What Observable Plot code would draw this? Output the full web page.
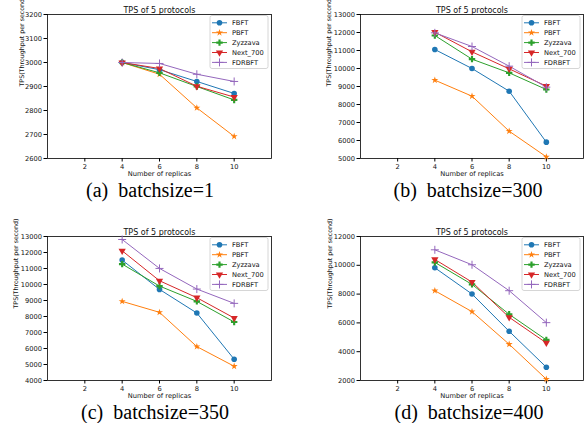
<!DOCTYPE html>
<html><head><meta charset="utf-8">
<script src="https://cdn.jsdelivr.net/npm/d3@7"></script>
<script src="https://cdn.jsdelivr.net/npm/@observablehq/plot@0.6"></script>
<style>
body{margin:0;background:#fff;}
#root{position:relative;width:586px;height:423px;overflow:hidden;background:#fff;}
.panel{position:absolute;width:293px;}
.cap{position:absolute;font-family:"Liberation Serif","Times New Roman",serif;font-size:20px;white-space:pre;transform:translateX(-50%);line-height:1;color:#000;}
</style></head><body><div id="root"></div>
<script>
const replicas = [4, 6, 8, 10];
const protocols = ["FBFT", "PBFT", "Zyzzava", "Next_700", "FDRBFT"];
const colors = ["#1f77b4", "#ff7f0e", "#2ca02c", "#d62728", "#9467bd"];
const symbols = ["circle", "star", "cross", "triangle", "plus"];
const batchsizes = [1, 300, 350, 400];
const letters = ["a", "b", "c", "d"];
const title = "TPS of 5 protocols";
const xLabel = "Number of replicas";
const yLabel = "TPS(Throughput per second)";
// rows: FBFT, PBFT, Zyzzava, Next_700, FDRBFT
const tps1 = [[3000, 2970, 2921, 2871], [3000, 2951, 2811, 2692], [3000, 2957, 2900, 2844], [3000, 2975, 2901, 2856], [3000, 2996, 2951, 2921]];
const tps300 = [[11056, 10000, 8740, 5907], [9352, 8463, 6519, 5093], [11833, 10519, 9759, 8833], [12019, 10926, 9981, 9019], [11981, 11222, 10130, 8963]];
const tps350 = [[11524, 9694, 8218, 5329], [8946, 8260, 6118, 4891], [11274, 9902, 8946, 7657], [12106, 10235, 9175, 7906], [12813, 11004, 9715, 8821]];
const tps400 = [[9829, 8005, 5418, 2924], [8236, 6781, 4517, 2092], [10199, 8674, 6596, 4818], [10406, 8836, 6388, 4610], [11076, 10037, 8236, 6018]];
const xTicks = [2, 4, 6, 8, 10];
const xDomain = [0, 12];
const yTicks1 = [2600, 2700, 2800, 2900, 3000, 3100, 3200];
const yTicks300 = [5000, 6000, 7000, 8000, 9000, 10000, 11000, 12000, 13000];
const yTicks350 = [4000, 5000, 6000, 7000, 8000, 9000, 10000, 11000, 12000, 13000];
const yTicks400 = [2000, 4000, 6000, 8000, 10000, 12000];

const dataSets = [tps1, tps300, tps350, tps400];
const tickSets = [yTicks1, yTicks300, yTicks350, yTicks400];
const symR = {circle: 2.8, star: 2.2, cross: 2.7, triangle: 2.7, plus: 2.7};
const fs = 6.7;

const layouts = [
  {left: 0, top: 0, ml: 47, mr: 22, ylab: -26, cap: 150},
  {left: 293, top: 0, ml: 67, mr: 3, ylab: -32, cap: 468},
  {left: 0, top: 222, ml: 47, mr: 22, ylab: -32, cap: 155},
  {left: 293, top: 222, ml: 67, mr: 3, ylab: -31, cap: 469}
];
const W = 293, H = 182, MT = 14, MB = 24;

const root = document.getElementById("root");

function addLegend(svg, frameRight, frameTop) {
  const g = d3.select(svg).append("g").attr("text-anchor", "start");
  const w = 58, h = 53;
  const x0 = frameRight - 3 - w, y0 = frameTop + 1.5;
  g.append("rect").attr("x", x0).attr("y", y0).attr("width", w).attr("height", h)
    .attr("rx", 2).attr("fill", "white").attr("fill-opacity", 0.8)
    .attr("stroke", "#cccccc").attr("stroke-width", 0.8);
  const d3sym = {circle: d3.symbolCircle, star: d3.symbolStar, cross: d3.symbolCross, triangle: d3.symbolTriangle, plus: d3.symbolPlus};
  protocols.forEach((p, i) => {
    const cy = y0 + 7.3 + i * 9.9;
    g.append("line").attr("x1", x0 + 2).attr("x2", x0 + 17).attr("y1", cy).attr("y2", cy)
      .attr("stroke", colors[i]).attr("stroke-width", 1);
    const s = symbols[i];
    const path = d3.symbol().type(d3sym[s]).size(Math.PI * symR[s] * symR[s])();
    const sp = g.append("path").attr("d", path)
      .attr("transform", `translate(${x0 + 9.5},${cy})` + (s === "triangle" ? " rotate(180)" : ""));
    if (s === "plus") sp.attr("fill", "none").attr("stroke", colors[i]).attr("stroke-width", 1);
    else sp.attr("fill", colors[i]);
    g.append("text").attr("x", x0 + 22).attr("y", cy).attr("dy", "0.35em")
      .attr("text-anchor", "start")
      .attr("font-size", fs).attr("fill", "#111").text(p);
  });
}

dataSets.forEach((vals, k) => {
  const L = layouts[k];
  const rows = [];
  protocols.forEach((p, i) => replicas.forEach((r, j) => rows.push({protocol: p, x: r, y: vals[i][j], idx: i})));
  const ticks = tickSets[k];
  const marks = [
    Plot.frame({stroke: "#000", strokeWidth: 0.8}),
    Plot.axisX(xTicks, {tickSize: 3.5, tickPadding: 2, fontSize: fs, label: null, tickFormat: d => String(d), stroke: "#000", fill: "#111"}),
    Plot.axisY(ticks, {tickSize: 3.5, tickPadding: 2, fontSize: fs, label: null, tickFormat: d => String(d), stroke: "#000", fill: "#111"}),
    Plot.text([title], {frameAnchor: "top", dy: -7, fontSize: 8, fill: "#111"}),
    Plot.text([xLabel], {frameAnchor: "bottom", dy: 17, fontSize: fs, fill: "#111"}),
    Plot.text([yLabel], {frameAnchor: "left", dx: L.ylab, rotate: -90, fontSize: 6.3, fill: "#111"})
  ];
  protocols.forEach((p, i) => {
    const sub = rows.filter(d => d.idx === i);
    marks.push(Plot.line(sub, {x: "x", y: "y", stroke: colors[i], strokeWidth: 1}));
  });
  protocols.forEach((p, i) => {
    const sub = rows.filter(d => d.idx === i);
    const s = symbols[i];
    const opts = {x: "x", y: "y", symbol: s, r: symR[s]};
    if (s === "plus") { opts.stroke = colors[i]; opts.fill = "none"; opts.strokeWidth = 1; }
    else { opts.fill = colors[i]; opts.stroke = "none"; }
    if (s === "triangle") opts.rotate = 180;
    marks.push(Plot.dot(sub, opts));
  });
  const svg = Plot.plot({
    width: W, height: H,
    marginLeft: L.ml, marginRight: L.mr, marginTop: MT, marginBottom: MB,
    x: {domain: xDomain}, y: {domain: [ticks[0], ticks[ticks.length - 1]]},
    style: {fontFamily: "DejaVu Sans", background: "transparent", overflow: "visible"},
    marks
  });
  addLegend(svg, W - L.mr, MT);
  const div = document.createElement("div");
  div.className = "panel";
  div.style.left = L.left + "px";
  div.style.top = L.top + "px";
  div.appendChild(svg);
  root.appendChild(div);
  const cap = document.createElement("div");
  cap.className = "cap";
  cap.style.left = L.cap + "px";
  cap.style.top = (L.top + 180) + "px";
  cap.textContent = `(${letters[k]})  batchsize=${batchsizes[k]}`;
  root.appendChild(cap);
});
</script></body></html>
